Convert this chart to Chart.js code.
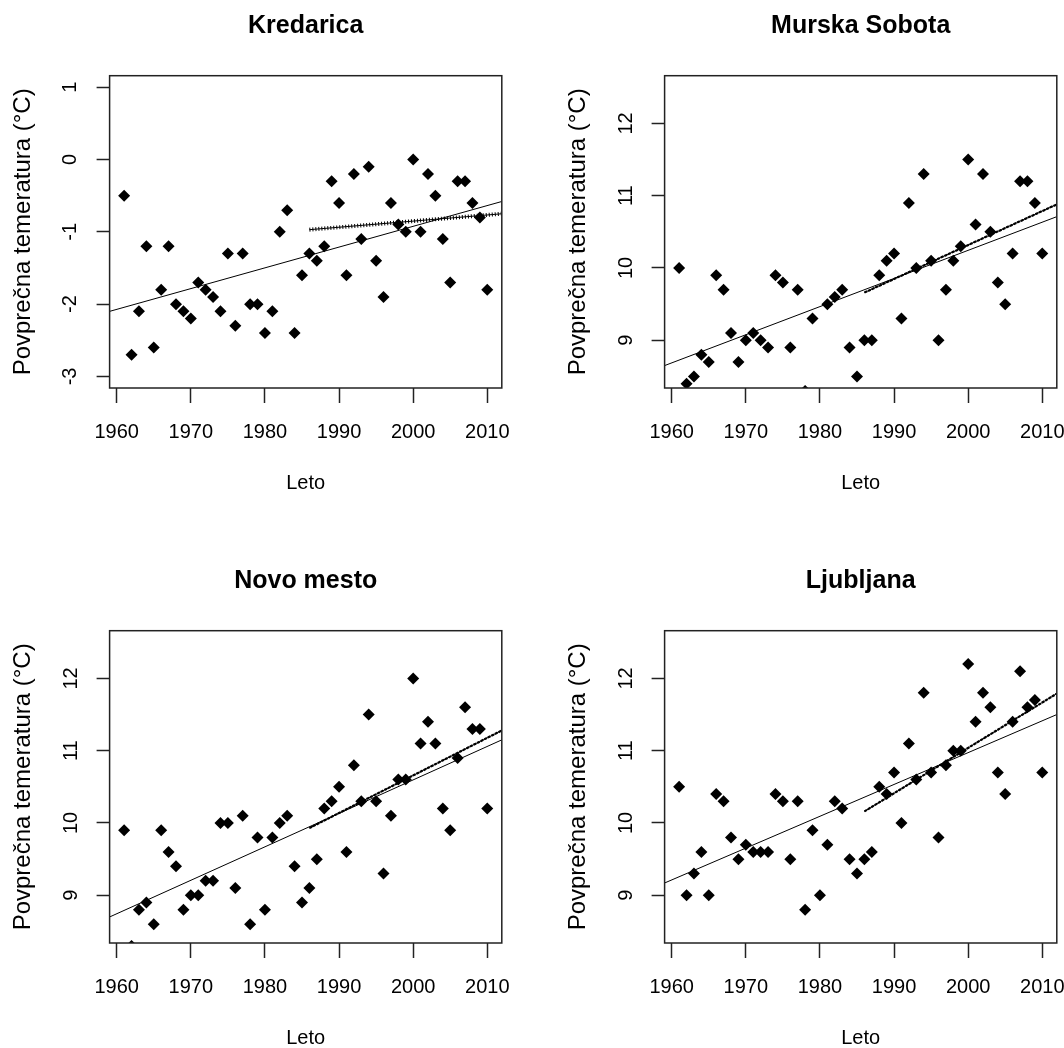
<!DOCTYPE html>
<html>
<head>
<meta charset="utf-8">
<script src="https://cdn.jsdelivr.net/npm/chart.js@4"></script>
<style>
  html, body { margin: 0; padding: 0; background: #fff; }
  body { position: relative; width: 1064px; height: 1048px; overflow: hidden; }
  canvas { position: absolute; }
</style>
</head>
<body>
<canvas id="c1" width="555" height="555" style="left:0;top:0"></canvas>
<canvas id="c2" width="555" height="555" style="left:555px;top:0"></canvas>
<canvas id="c3" width="555" height="555" style="left:0;top:555px"></canvas>
<canvas id="c4" width="555" height="555" style="left:555px;top:555px"></canvas>
<script>
// leta
const years = [1961, 1962, 1963, 1964, 1965, 1966, 1967, 1968, 1969, 1970,
               1971, 1972, 1973, 1974, 1975, 1976, 1977, 1978, 1979, 1980,
               1981, 1982, 1983, 1984, 1985, 1986, 1987, 1988, 1989, 1990,
               1991, 1992, 1993, 1994, 1995, 1996, 1997, 1998, 1999, 2000,
               2001, 2002, 2003, 2004, 2005, 2006, 2007, 2008, 2009, 2010];

// povprečne letne temperature (°C)
const kredarica = [-0.5, -2.7, -2.1, -1.2, -2.6, -1.8, -1.2, -2.0, -2.1, -2.2,
                   -1.7, -1.8, -1.9, -2.1, -1.3, -2.3, -1.3, -2.0, -2.0, -2.4,
                   -2.1, -1.0, -0.7, -2.4, -1.6, -1.3, -1.4, -1.2, -0.3, -0.6,
                   -1.6, -0.2, -1.1, -0.1, -1.4, -1.9, -0.6, -0.9, -1.0, 0.0,
                   -1.0, -0.2, -0.5, -1.1, -1.7, -0.3, -0.3, -0.6, -0.8, -1.8];
const murskaSobota = [10.0, 8.4, 8.5, 8.8, 8.7, 9.9, 9.7, 9.1, 8.7, 9.0,
                      9.1, 9.0, 8.9, 9.9, 9.8, 8.9, 9.7, 8.3, 9.3, 8.1,
                      9.5, 9.6, 9.7, 8.9, 8.5, 9.0, 9.0, 9.9, 10.1, 10.2,
                      9.3, 10.9, 10.0, 11.3, 10.1, 9.0, 9.7, 10.1, 10.3, 11.5,
                      10.6, 11.3, 10.5, 9.8, 9.5, 10.2, 11.2, 11.2, 10.9, 10.2];
const novoMesto = [9.9, 8.3, 8.8, 8.9, 8.6, 9.9, 9.6, 9.4, 8.8, 9.0,
                   9.0, 9.2, 9.2, 10.0, 10.0, 9.1, 10.1, 8.6, 9.8, 8.8,
                   9.8, 10.0, 10.1, 9.4, 8.9, 9.1, 9.5, 10.2, 10.3, 10.5,
                   9.6, 10.8, 10.3, 11.5, 10.3, 9.3, 10.1, 10.6, 10.6, 12.0,
                   11.1, 11.4, 11.1, 10.2, 9.9, 10.9, 11.6, 11.3, 11.3, 10.2];
const ljubljana = [10.5, 9.0, 9.3, 9.6, 9.0, 10.4, 10.3, 9.8, 9.5, 9.7,
                   9.6, 9.6, 9.6, 10.4, 10.3, 9.5, 10.3, 8.8, 9.9, 9.0,
                   9.7, 10.3, 10.2, 9.5, 9.3, 9.5, 9.6, 10.5, 10.4, 10.7,
                   10.0, 11.1, 10.6, 11.8, 10.7, 9.8, 10.8, 11.0, 11.0, 12.2,
                   11.4, 11.8, 11.6, 10.7, 10.4, 11.4, 12.1, 11.6, 11.7, 10.7];

// regresijske premice (vrednosti na koncih)
const trendX = [1959.04, 2011.96];
const recentX = [1986, 2011.96];
const kredaricaTrend = [-2.10, -0.58];
const kredaricaRecent = [-0.97, -0.75];
const murskaTrend = [8.65, 10.71];
const murskaRecent = [9.66, 10.88];
const novoTrend = [8.70, 11.15];
const novoRecent = [9.93, 11.28];
const ljubljanaTrend = [9.17, 11.50];
const ljubljanaRecent = [10.16, 11.79];

// osi
const xTicks = [1960, 1970, 1980, 1990, 2000, 2010];
const xRange = [1959.04, 2011.96];
const kredaricaTicks = [-3, -2, -1, 0, 1];
const kredaricaRange = [-3.16, 1.16];
const tempTicks = [9, 10, 11, 12];
const tempRange = [8.34, 12.66];

const Y_TITLE = "Povprečna temeratura (°C)";
const X_TITLE = "Leto";

Chart.defaults.font.family = '"Liberation Sans", Arial, sans-serif';
Chart.defaults.color = "#000";

const boxPlugin = {
    id: "box",
    afterDraw(chart) {
        const a = chart.chartArea;
        const ctx = chart.ctx;
        ctx.save();
        ctx.strokeStyle = "#222";
        ctx.lineWidth = 1.5;
        ctx.strokeRect(a.left, a.top, a.right - a.left, a.bottom - a.top);
        ctx.restore();
    }
};

function linePts(xs, ys) {
    return xs.map((x, i) => ({ x: x, y: ys[i] }));
}

function makePanel(id, title, values, trend, recent, yTicks, yRange, yPad, crossed) {
    const recentStyle = crossed
        ? { borderWidth: 4, borderDash: [1, 2] }
        : { borderWidth: 2.2, borderDash: [3, 1] };

    new Chart(document.getElementById(id), {
        type: "scatter",
        data: {
            datasets: [
                {
                    data: years.map((y, i) => ({ x: y, y: values[i] })),
                    pointStyle: "rectRot",
                    pointRadius: 6,
                    pointBackgroundColor: "#000",
                    pointBorderWidth: 0,
                    showLine: false,
                    clip: 0
                },
                {
                    data: linePts(trendX, trend),
                    showLine: true,
                    borderColor: "#000",
                    borderWidth: 1,
                    pointRadius: 0
                },
                {
                    data: linePts(recentX, recent),
                    showLine: true,
                    borderColor: "#000",
                    borderWidth: 1,
                    pointRadius: 0
                },
                Object.assign({
                    data: linePts(recentX, recent),
                    showLine: true,
                    borderColor: "#000",
                    pointRadius: 0
                }, recentStyle)
            ]
        },
        options: {
            responsive: false,
            animation: false,
            devicePixelRatio: 1,
            layout: { padding: { left: 0, top: 0, right: 53.2, bottom: 0 } },
            plugins: {
                legend: { display: false },
                tooltip: { enabled: false },
                title: {
                    display: true,
                    text: title,
                    fullSize: false,
                    color: "#000",
                    font: { size: 25, weight: "bold" },
                    padding: { top: 11, bottom: 34.7 }
                }
            },
            scales: {
                x: {
                    type: "linear",
                    min: xRange[0],
                    max: xRange[1],
                    afterBuildTicks: sc => { sc.ticks = xTicks.map(v => ({ value: v })); },
                    afterFit: sc => { sc.height = 167; },
                    border: { display: false },
                    grid: { drawOnChartArea: false, drawTicks: true, tickLength: 15, tickColor: "#222", tickWidth: 1.5 },
                    ticks: { font: { size: 20 }, color: "#000", padding: 17, maxRotation: 0, autoSkip: false, callback: v => String(v) },
                    title: { display: true, text: X_TITLE, color: "#000", font: { size: 20 }, padding: { top: 0, bottom: 60 } }
                },
                y: {
                    type: "linear",
                    min: yRange[0],
                    max: yRange[1],
                    afterBuildTicks: sc => { sc.ticks = yTicks.map(v => ({ value: v })); },
                    afterFit: sc => { sc.width = 109.6; },
                    border: { display: false },
                    grid: { drawOnChartArea: false, drawTicks: true, tickLength: 13, tickColor: "#222", tickWidth: 1.5 },
                    ticks: { font: { size: 20 }, color: "#000", padding: yPad, minRotation: 90, maxRotation: 90, crossAlign: "center", callback: v => String(v) },
                    title: { display: true, text: Y_TITLE, color: "#000", font: { size: 24 }, padding: { top: 9, bottom: 0 } }
                }
            }
        },
        plugins: [boxPlugin]
    });
}

makePanel("c1", "Kredarica", kredarica, kredaricaTrend, kredaricaRecent, kredaricaTicks, kredaricaRange, 17, true);
makePanel("c2", "Murska Sobota", murskaSobota, murskaTrend, murskaRecent, tempTicks, tempRange, 14, false);
makePanel("c3", "Novo mesto", novoMesto, novoTrend, novoRecent, tempTicks, tempRange, 14, false);
makePanel("c4", "Ljubljana", ljubljana, ljubljanaTrend, ljubljanaRecent, tempTicks, tempRange, 14, false);
</script>
</body>
</html>
